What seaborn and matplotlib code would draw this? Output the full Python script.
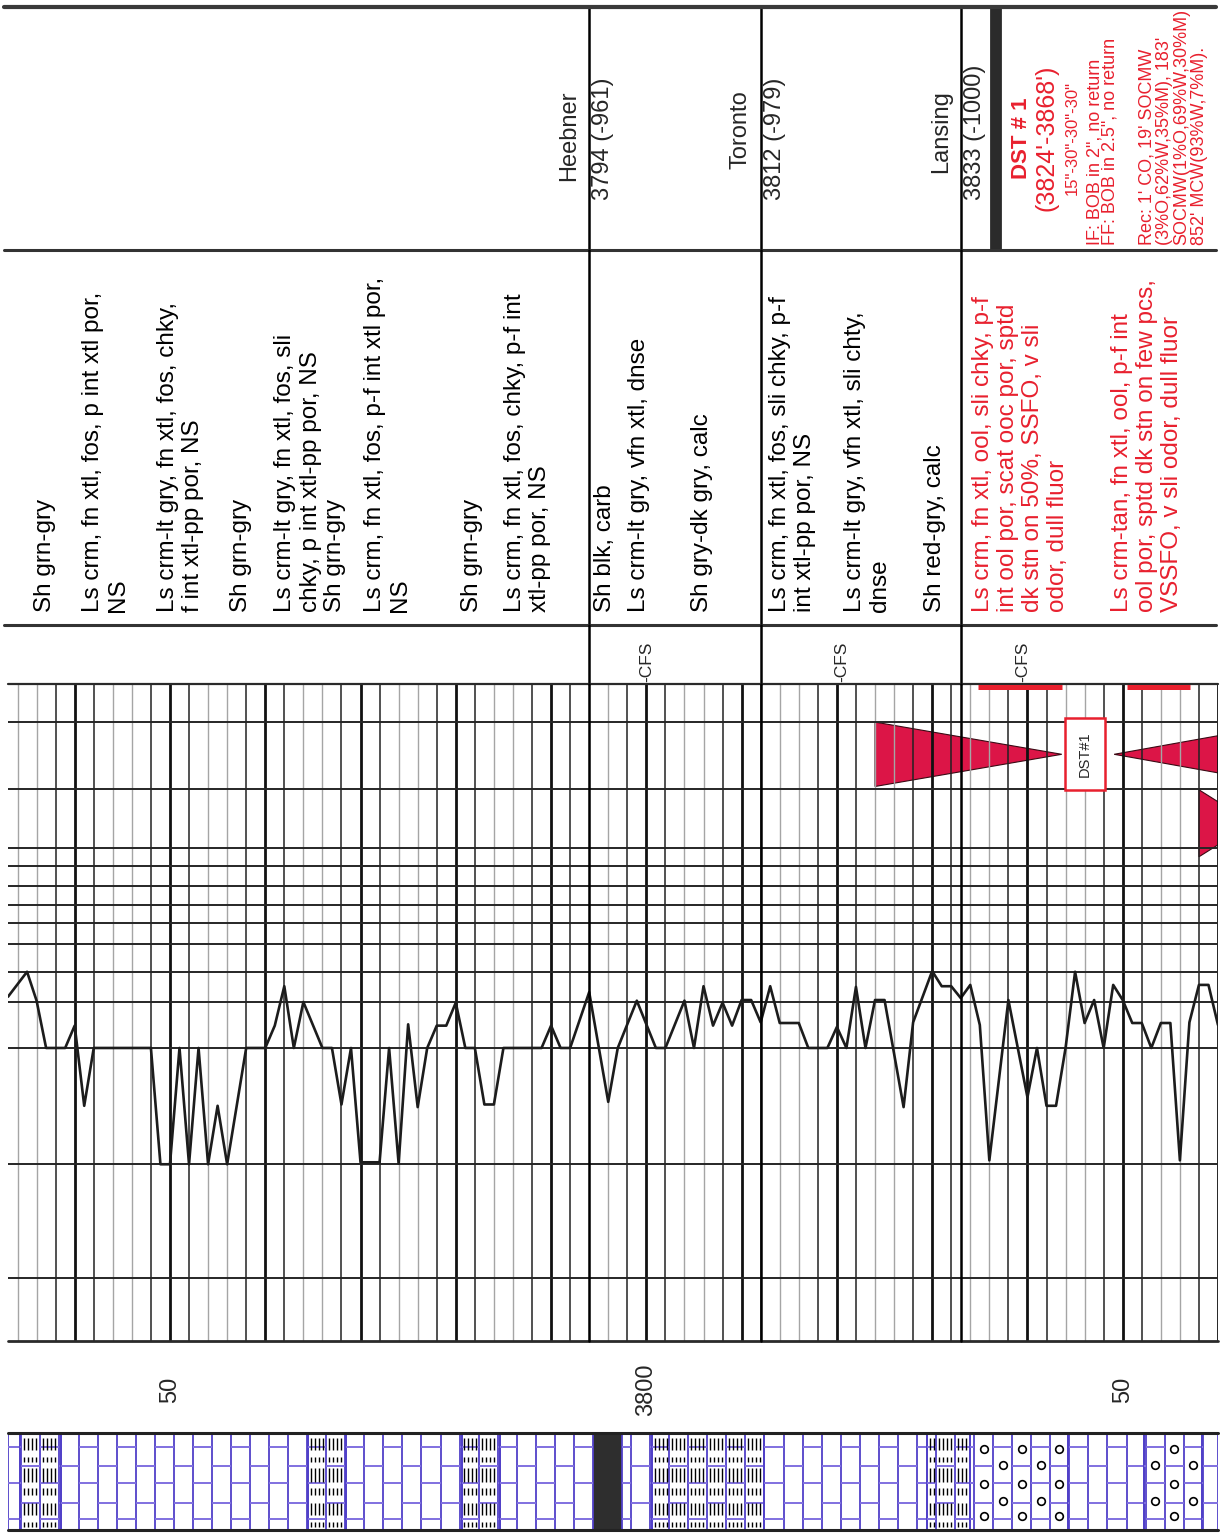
import matplotlib
matplotlib.use("Agg")
import matplotlib.pyplot as plt
from matplotlib.patches import Rectangle
import numpy as np
import seaborn as sns

sns.set_style("white")
plt.rcParams["font.family"] = ["Liberation Sans", "DejaVu Sans"]

# depth window of the strip (ft)
depth_top, depth_base = 3733, 3860

# formation tops
top_names = ["Heebner", "Toronto", "Lansing"]
top_depths = [3794, 3812, 3833]
top_datums = ["3794 (-961)", "3812 (-979)", "3833 (-1000)"]

# drilling time curve: depth and position across the track (0 = top edge, 100 = bottom edge)
rop_depth = [3733, 3735, 3736, 3737, 3739, 3740, 3741, 3742, 3748, 3749,
             3750, 3751, 3752, 3753, 3754, 3755, 3756, 3758, 3760, 3761,
             3762, 3763, 3764, 3766, 3767, 3768, 3769, 3770, 3772, 3773,
             3774, 3775, 3776, 3777, 3778, 3779, 3780, 3781, 3782, 3783,
             3784, 3785, 3789, 3790, 3791, 3792, 3794, 3796, 3797, 3799,
             3801, 3802, 3804, 3805, 3806, 3807, 3808, 3809, 3810, 3811,
             3812, 3813, 3814, 3816, 3817, 3819, 3820, 3821, 3822, 3823,
             3824, 3825, 3827, 3828, 3830, 3831, 3832, 3833, 3834, 3835,
             3836, 3838, 3840, 3841, 3842, 3843, 3844, 3845, 3846, 3847,
             3848, 3849, 3850, 3851, 3852, 3853, 3854, 3855, 3856, 3857,
             3858, 3859, 3860]
rop_value = [47.6, 43.8, 48.2, 55.4, 55.4, 52.0, 64.2, 55.4, 55.4, 73.1,
             73.1, 55.4, 73.1, 55.4, 73.1, 64.2, 73.1, 55.4, 55.4, 52.0,
             46.0, 55.4, 48.4, 55.4, 55.4, 64.0, 55.4, 72.8, 72.8, 55.4,
             73.0, 51.8, 64.4, 55.4, 52.0, 52.0, 48.5, 55.4, 55.4, 64.0,
             64.0, 55.4, 55.4, 52.0, 55.4, 55.4, 46.9, 63.6, 55.4, 48.2,
             55.4, 55.4, 48.2, 55.4, 46.0, 52.0, 48.5, 52.0, 48.1, 48.1,
             51.5, 46.0, 51.6, 51.6, 55.4, 55.4, 52.2, 55.4, 46.1, 55.4,
             48.1, 48.1, 64.4, 51.5, 43.7, 46.0, 46.0, 47.8, 45.8, 51.9,
             72.5, 48.1, 62.9, 55.4, 64.2, 64.2, 55.4, 43.8, 51.6, 48.1,
             55.4, 45.8, 48.1, 51.6, 51.6, 55.4, 51.6, 51.6, 72.5, 51.5,
             45.8, 45.8, 51.9]

# horizontal rulings of the curve track (same 0-100 units)
track_grid = [5.8, 16.0, 25.0, 27.7, 30.7, 33.6, 36.4, 39.6, 43.8, 48.4, 55.4, 73.1, 90.4]

# lithology column
lith_top = [3733.0, 3734.3, 3738.6, 3764.5, 3768.5, 3780.6, 3784.6, 3794.4,
            3797.4, 3800.6, 3812.4, 3829.5, 3834.0, 3844.3, 3852.2, 3858.3]
lith_base = [3734.3, 3738.6, 3764.5, 3768.5, 3780.6, 3784.6, 3794.4, 3797.4,
             3800.6, 3812.4, 3829.5, 3834.0, 3844.3, 3852.2, 3858.3, 3860.0]
lith_type = ["ls", "sh", "ls", "sh", "ls", "sh", "ls", "blk",
             "ls", "sh", "ls", "sh", "ool", "ls", "ool", "ls"]

# sample descriptions (depth of first line)
desc_depth = [3736.9, 3741.9, 3749.8, 3757.5, 3762.1, 3767.3, 3771.5, 3781.7,
              3786.2, 3795.7, 3799.2, 3805.8, 3814.0, 3821.9, 3830.3, 3835.3, 3849.9]
desc_lines = [
    ["Sh grn-gry"],
    ["Ls crm, fn xtl, fos, p int xtl por,", "NS"],
    ["Ls crm-lt gry, fn xtl, fos, chky,", "f int xtl-pp por, NS"],
    ["Sh grn-gry"],
    ["Ls crm-lt gry, fn xtl, fos, sli", "chky, p int xtl-pp por, NS"],
    ["Sh grn-gry"],
    ["Ls crm, fn xtl, fos, p-f int xtl por,", "NS"],
    ["Sh grn-gry"],
    ["Ls crm, fn xtl, fos, chky, p-f int", "xtl-pp por, NS"],
    ["Sh blk, carb"],
    ["Ls crm-lt gry, vfn xtl, dnse"],
    ["Sh gry-dk gry, calc"],
    ["Ls crm, fn xtl, fos, sli chky, p-f", "int xtl-pp por, NS"],
    ["Ls crm-lt gry, vfn xtl, sli chty,", "dnse"],
    ["Sh red-gry, calc"],
    ["Ls crm, fn xtl, ool, sli chky, p-f", "int ool por, scat ooc por, sptd",
     "dk stn on 50%, SSFO, v sli", "odor, dull fluor"],
    ["Ls crm-tan, fn xtl, ool, p-f int", "ool por, sptd dk stn on few pcs,",
     "VSSFO, v sli odor, dull fluor"],
]
desc_show = [False] * 15 + [True, True]

# drill stem tests
dst_names = ["DST#1", "DST#2"]
dst_top = [3824, 3858]
dst_base = [3868, 3874]

# oil show bars and sample circulations
show_top = [3834.8, 3850.5]
show_base = [3843.6, 3857.1]
cfs_depth = [3800, 3820.5, 3839.5]

# DST report in the header
dst_report = ["DST # 1", "(3824'-3868')", '15"-30"-30"-30"',
              'IF: BOB in 2", no return', 'FF: BOB in 2.5", no return',
              "Rec: 1' CO, 19' SOCMW", "(3%O,62%W,35%M), 183'",
              "SOCMW(1%O,69%W,30%M)", "852' MCW(93%W,7%M)."]
dst_report_depth = [3839.4, 3842.0, 3844.7, 3847.1, 3848.7, 3852.6, 3854.4, 3856.2, 3858.1]

depth_ticks = [3750, 3800, 3850]
depth_tick_labels = ["50", "3800", "50"]

RED = "#e8202e"
DST_RED = "#dc1547"
VIOLET = "#5040c8"
LILAC = "#8070e0"

W, H = 1230, 1533
X0, X1 = 8, 1218

fig = plt.figure(figsize=(W / 100, H / 100), dpi=100)


def band(y0, y1):
    ax = fig.add_axes([X0 / W, 1 - y1 / H, (X1 - X0) / W, (y1 - y0) / H])
    ax.set_axis_off()
    return ax


ax_head = band(7, 250)
ax_desc = band(250, 625)
ax_cfs = band(625, 684)
ax_trk = band(684, 1341)
ax_dep = band(1341, 1433)
ax_lith = band(1433, 1530)

rot = dict(rotation=90, rotation_mode="anchor")

# ---- curve track ----
for d in range(3734, 3861, 2):
    if d % 10 == 0:
        ax_trk.axvline(d, color="#111111", lw=2.0)
    elif d % 10 in (4, 6):
        ax_trk.axvline(d, color="#a5a5a5", lw=1.0)
    else:
        ax_trk.axvline(d, color="#222222", lw=1.1)
for g in track_grid:
    ax_trk.axhline(g, color="#262626", lw=1.4)

sns.lineplot(x=rop_depth, y=rop_value, ax=ax_trk, color="#1c1c1c", lw=1.9,
             estimator=None, sort=False)

for i, (name, t, b) in enumerate(zip(dst_names, dst_top, dst_base)):
    r0, r1 = (5.8, 15.6) if i == 0 else (16.1, 26.3)
    rm = (r0 + r1) / 2
    mid = (t + b) / 2
    for base_d, apex in ((t, mid - 2.4), (b, mid + 3.1)):
        ax_trk.fill([base_d, base_d, apex], [r0, r1, rm], color=DST_RED,
                    ec="#3a0a14", lw=0.8)
    if mid < depth_base:
        ax_trk.add_patch(Rectangle((mid - 2.1, r0 - 0.6), 4.2, r1 - r0 + 1.2,
                                   fc="white", ec=RED, lw=1.8, zorder=5))
        ax_trk.text(mid, rm, name, ha="center", va="center", fontsize=10.5,
                    zorder=6, **rot)

ax_trk.hlines([0.45] * len(show_top), show_top, show_base, color=RED, lw=3.6,
              clip_on=False, zorder=6)
ax_trk.set_xlim(depth_top, depth_base)
ax_trk.set_ylim(100, 0)
ax_trk.axhline(0, color="#2a2a2a", lw=1.6, clip_on=False)
ax_trk.axhline(100, color="#2a2a2a", lw=2.0, clip_on=False)

# ---- formation tops lines through header, descriptions and track ----
for ax in (ax_head, ax_desc, ax_cfs, ax_trk):
    for d in top_depths:
        ax.axvline(d, color="black", lw=1.8, clip_on=False)

# ---- header ----
htr = ax_head.get_xaxis_transform()
for name, d, datum in zip(top_names, top_depths, top_datums):
    ax_head.text(d - 2.1, 0.658, name, ha="right", va="center", fontsize=17,
                 transform=htr, **rot)
    ax_head.text(d + 1.5, 0.206, datum, ha="left", va="center", fontsize=17,
                 transform=htr, **rot)
ax_head.axvline(3836.7, color="#2b2b2b", lw=8.5)
for i, (txt, d) in enumerate(zip(dst_report, dst_report_depth)):
    if i < 3:
        size = [16, 18, 12][i]
        ax_head.text(d, 0.461, txt, ha="center", va="center", fontsize=size,
                     fontweight="bold" if i == 0 else "normal", color=RED,
                     transform=htr, clip_on=True, **rot)
    else:
        ax_head.text(d, 0.02, txt, ha="left", va="center", fontsize=13,
                     color=RED, transform=htr, clip_on=True, **rot)
ax_head.axhline(1, xmin=-0.003, xmax=0.998, color="#3a3a3a", lw=3.0, clip_on=False)
ax_head.axhline(0, xmin=-0.003, xmax=0.998, color="#333333", lw=2.2, clip_on=False)
ax_head.set_xlim(depth_top, depth_base)
ax_head.set_ylim(0, 1)

# ---- descriptions ----
dtr = ax_desc.get_xaxis_transform()
for d, lines, show in zip(desc_depth, desc_lines, desc_show):
    for k, line in enumerate(lines):
        ax_desc.text(d + 2.65 * k, 0.035, line, ha="left", va="center",
                     fontsize=17.5, color=RED if show else "black",
                     transform=dtr, **rot)
ax_desc.axhline(0, xmin=-0.003, xmax=0.998, color="#333333", lw=2.2, clip_on=False)
ax_desc.set_xlim(depth_top, depth_base)
ax_desc.set_ylim(0, 1)

# ---- CFS marks ----
for d in cfs_depth:
    ax_cfs.text(d, 0.03, "-CFS", ha="left", va="center", fontsize=12.5,
                transform=ax_cfs.get_xaxis_transform(), **rot)
ax_cfs.set_xlim(depth_top, depth_base)
ax_cfs.set_ylim(0, 1)

# ---- depth labels ----
for d, lab in zip(depth_ticks, depth_tick_labels):
    ax_dep.text(d, 0.467, lab, ha="center", va="center", fontsize=17,
                transform=ax_dep.get_xaxis_transform(), **rot)
ax_dep.set_xlim(depth_top, depth_base)
ax_dep.set_ylim(0, 1)

# ---- lithology column ----
brick_a = [0.113, 0.485, 0.856]
brick_b = [0.28, 0.66]
dash_rows = [(0.15, 0.28), (0.49, 0.64), (0.82, 0.95),
             (0.03, 0.08), (0.36, 0.43), (0.70, 0.75)]
edges = np.arange(3732.4, 3862, 2.0)
for t, b, kind in zip(lith_top, lith_base, lith_type):
    if kind == "blk":
        ax_lith.axvspan(t, b, color="#2e2e2e", lw=0)
        continue
    inner = edges[(edges > t + 0.05) & (edges < b - 0.05)]
    cols = np.r_[t, inner, b]
    ax_lith.vlines(cols, 0, 1, color=VIOLET, lw=1.3)
    for c0, c1 in zip(cols[:-1], cols[1:]):
        k = int(np.floor((c0 + 0.01 - 3732.4) / 2))
        ys = brick_a if k % 2 == 0 else brick_b
        ax_lith.hlines(ys, c0, c1, color=LILAC, lw=1.4)
        if kind == "ool" and c1 - c0 > 1.2:
            bounds = [0] + ys + [1]
            cy = [(lo + hi) / 2 for lo, hi in zip(bounds[:-1], bounds[1:]) if hi - lo > 0.25]
            ax_lith.plot([(c0 + c1) / 2] * len(cy), cy, "o", ms=5.5, mfc="white",
                         mec="black", mew=1.2)
        if kind == "sh":
            xs = np.arange(c0 + 0.3, c1 - 0.15, 0.42)
            for y0, y1 in dash_rows:
                ax_lith.vlines(xs, y0, y1, color="black", lw=1.0)
ax_lith.axhline(1, color="#222222", lw=2.2, clip_on=False)
ax_lith.axhline(0, color="#222222", lw=2.2, clip_on=False)
ax_lith.set_xlim(depth_top, depth_base)
ax_lith.set_ylim(0, 1)

fig.savefig("out.png", dpi=100, facecolor="white")
